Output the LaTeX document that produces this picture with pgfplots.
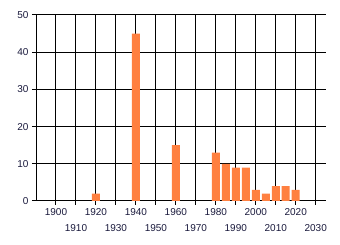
\documentclass[border=0pt]{standalone}
\usepackage{pgfplots}
\pgfplotsset{compat=1.18}
\usepackage{fontspec}
\setmainfont{Liberation Sans}
\definecolor{barc}{RGB}{255,128,64}
\definecolor{txt}{RGB}{25,25,60}
\begin{document}
\begin{tikzpicture}
\useasboundingbox (0,0) rectangle (340pt,245pt);
\begin{axis}[
  at={(36pt,44pt)}, anchor=south west,
  scale only axis, width=289.7pt, height=186pt,
  xmin=1890, xmax=2035, ymin=0, ymax=50,
  axis x line=bottom, axis y line=left,
  axis line style={-, line width=1pt, black},
  xtick={1900,1920,...,2020},
  extra x ticks={1910,1930,...,2030},
  extra x tick style={grid=major, tick label style={yshift=-15.7pt}},
  ytick={0,10,...,50},
  xticklabel style={/pgf/number format/1000 sep={}},
  extra x tick labels={1910,1930,1950,1970,1990,2010,2030},
  tick style={black, line width=1pt},
  tick align=outside, major tick length=4pt,
  grid=major,
  major grid style={black, line width=1pt},
  tick label style={font=\fontsize{10}{12}\selectfont, text=txt},
  /pgf/number format/assume math mode=true,
  ybar, bar width=4,
  clip=false,
]
\addplot[fill=barc, draw=none] coordinates {
(1920,2) (1940,45) (1960,15) (1980,13) (1985,10) (1990,9) (1995,9)
(2000,3) (2005,2) (2010,4) (2015,4) (2020,3)
};
\end{axis}
\end{tikzpicture}
\end{document}
